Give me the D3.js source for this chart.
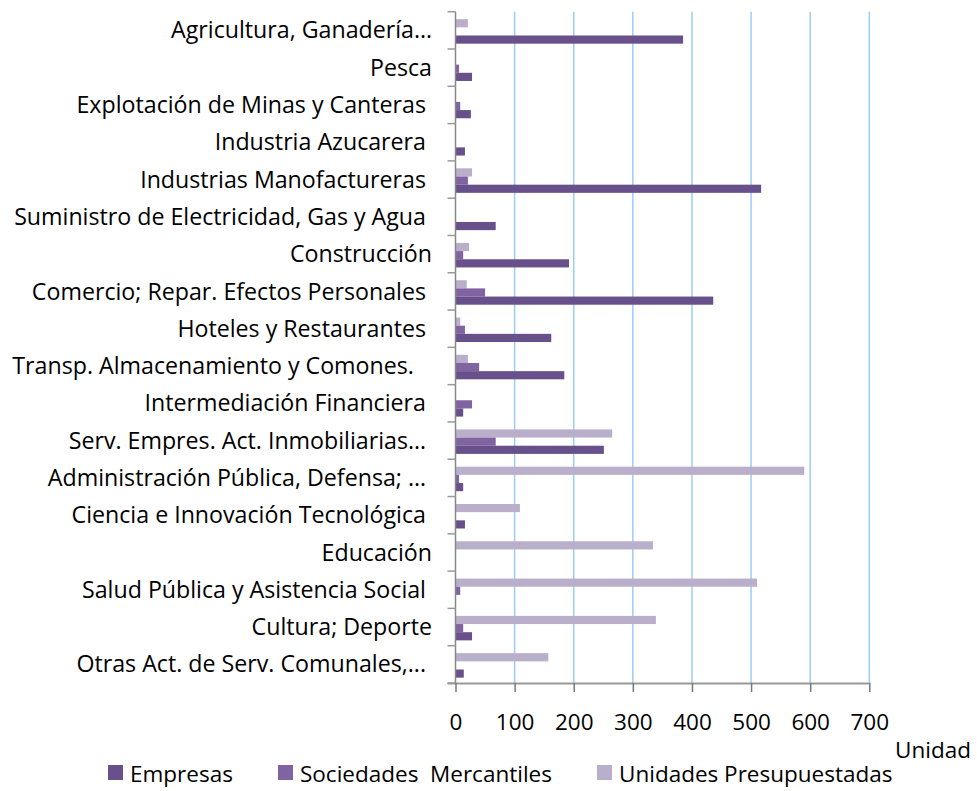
<!DOCTYPE html>
<html>
<head>
<meta charset="utf-8">
<script src="https://cdn.jsdelivr.net/npm/d3@7"></script>
<style>
  body { margin: 0; background: #fff; }
  text { font-family: "Open Sans", Lato, sans-serif; fill: #000; white-space: pre; }
</style>
</head>
<body>
<div id="chart"></div>
<script>
const WIDTH = 977;
const HEIGHT = 791;

const categories = [
  "Agricultura, Ganadería…",
  "Pesca",
  "Explotación de Minas y Canteras ",
  "Industria Azucarera ",
  "Industrias Manofactureras ",
  "Suministro de Electricidad, Gas y Agua ",
  "Construcción",
  "Comercio; Repar. Efectos Personales ",
  "Hoteles y Restaurantes ",
  "Transp. Almacenamiento y Comones.   ",
  "Intermediación Financiera ",
  "Serv. Empres. Act. Inmobiliarias… ",
  "Administración Pública, Defensa; … ",
  "Ciencia e Innovación Tecnológica ",
  "Educación",
  "Salud Pública y Asistencia Social ",
  "Cultura; Deporte",
  "Otras Act. de Serv. Comunales,... "
]

const series = ["Unidades Presupuestadas", "Sociedades  Mercantiles", "Empresas"]
const colors = ["#b9afca", "#8063a1", "#68508a"]

const empresas    = [385, 28, 26, 16, 517, 68, 192, 436, 162, 184, 13, 251, 13, 16, 0, 0, 28, 14]
const sociedades  = [0, 6, 8, 0, 21, 0, 13, 50, 16, 40, 28, 68, 6, 0, 0, 8, 13, 0]
const unidades    = [21, 0, 0, 0, 28, 0, 23, 19, 8, 21, 0, 265, 590, 109, 334, 510, 339, 157]

const xTicks = [0, 100, 200, 300, 400, 500, 600, 700]

const valuesBySeries = [unidades, sociedades, empresas]
const LABEL_FONT = "23.2px"
const FONT = "22.5px"

const svg = d3.select("#chart")
  .append("svg")
  .attr("width", WIDTH)
  .attr("height", HEIGHT)

const x = d3.scaleLinear().domain([0, 700]).range([455.5, 869.3])
const y = d3.scaleBand().domain(categories).range([11.7, 683]).padding(0)
const bw = y.bandwidth()
const ySub = d3.scaleBand().domain(series).range([bw * 0.2, bw * 0.857]).padding(0)

// gridlines
svg.append("g")
  .selectAll("line")
  .data(xTicks.slice(1))
  .enter()
  .append("line")
  .attr("x1", d => x(d)).attr("x2", d => x(d))
  .attr("y1", 11.7).attr("y2", 683)
  .style("stroke", "#9cccf8")
  .style("stroke-width", 1.5)

// bars
const groups = svg.append("g")
  .selectAll("g")
  .data(categories)
  .enter()
  .append("g")
  .attr("transform", d => `translate(0, ${y(d)})`)

groups.selectAll("rect")
  .data((d, i) => series.map((s, j) => ({ s: s, v: valuesBySeries[j][i], c: colors[j] })))
  .enter()
  .append("rect")
  .attr("x", x(0))
  .attr("y", d => ySub(d.s))
  .attr("width", d => x(d.v) - x(0))
  .attr("height", ySub.bandwidth())
  .style("fill", d => d.c)

// y axis
const yAxis = svg.append("g")
  .attr("transform", `translate(${x(0)}, 0)`)
  .call(d3.axisLeft(y).tickSize(0).tickFormat(""))
yAxis.select(".domain").remove()
yAxis.append("line")
  .attr("x1", 0).attr("x2", 0).attr("y1", 11.7).attr("y2", 683)
  .style("stroke", "#888").style("stroke-width", 1.5)
yAxis.selectAll("line.cat")
  .data(categories.map(c => y(c)).concat([683]))
  .enter()
  .append("line")
  .attr("class", "cat")
  .attr("x1", -8).attr("x2", 0)
  .attr("y1", d => d).attr("y2", d => d)
  .style("stroke", "#999").style("stroke-width", 1.5)

svg.append("g")
  .selectAll("text")
  .data(categories)
  .enter()
  .append("text")
  .attr("x", 432)
  .attr("y", d => y(d) + bw / 2)
  .attr("dy", "0.35em")
  .attr("text-anchor", "end")
  .style("font-size", LABEL_FONT)
  .text(d => d)

// x axis
const xAxis = svg.append("g")
  .attr("transform", "translate(0, 683)")
  .call(d3.axisBottom(x).tickValues(xTicks).tickSize(9).tickPadding(22).tickFormat(d3.format("d")))
xAxis.select(".domain")
  .attr("d", `M${x(0) - 8},0.5H${x(700)}`)
  .style("stroke", "#999").style("stroke-width", 2)
xAxis.selectAll(".tick line").style("stroke", "#777").style("stroke-width", 1.5)
xAxis.selectAll(".tick text")
  .style("font-family", "'Open Sans', sans-serif")
  .style("font-size", FONT)
  .style("fill", "#000")

svg.append("text")
  .attr("x", 971)
  .attr("y", 758)
  .attr("text-anchor", "end")
  .style("font-size", FONT)
  .text("Unidad")

// legend
const legendItems = [
  { name: "Empresas", color: colors[2], x: 108 },
  { name: "Sociedades  Mercantiles", color: colors[1], x: 278 },
  { name: "Unidades Presupuestadas", color: colors[0], x: 597 }
]
const legend = svg.append("g")
  .selectAll("g")
  .data(legendItems)
  .enter()
  .append("g")
  .attr("transform", d => `translate(${d.x}, 765)`)
legend.append("rect")
  .attr("width", 15).attr("height", 15)
  .style("fill", d => d.color)
legend.append("text")
  .attr("x", 22)
  .attr("y", 17)
  .style("font-size", FONT)
  .text(d => d.name)
</script>
</body>
</html>
